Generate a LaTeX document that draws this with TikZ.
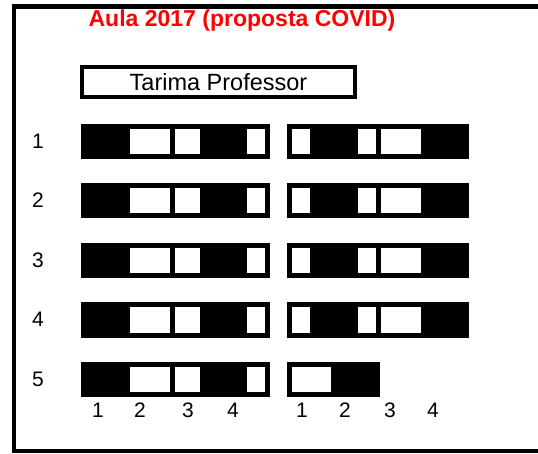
\documentclass[tikz,border=0pt]{standalone}
\usepackage{fontspec}
\setmainfont{Liberation Sans}
\begin{document}
\begin{tikzpicture}[x=1pt,y=-1pt,
  bar/.style={fill=black, draw=none, inner sep=0pt, outer sep=0pt, minimum height=35pt, anchor=north west},
  seat/.style={fill=white, draw=none, inner sep=0pt, outer sep=0pt, minimum height=25pt, anchor=north west},
  lbl/.style={font=\fontsize{21}{25}\selectfont, inner sep=0pt},
  frame/.style={line width=4.5pt, line cap=rect},
  title/.style={text=red, font=\bfseries\fontsize{23}{27}\selectfont, inner sep=0pt},
  tarima/.style={draw, line width=4pt, inner sep=0pt, minimum width=273pt, minimum height=30pt, font=\fontsize{23.5}{27}\selectfont}]
\useasboundingbox (0,0) rectangle (538,454);
% room frame (open on the right)
\coordinate (ftr) at (538,6.5);
\coordinate (ftl) at (14,6.5);
\coordinate (fbl) at (14,451);
\coordinate (fbr) at (538,451);
\draw[frame] (ftr) -- (ftl) -- (fbl) -- (fbr);
% title and teacher platform
\node[title] (title) at (242,21) {Aula 2017 (proposta COVID)};
\node[tarima] (tarima) at (218.5,82) {Tarima Professor};
% rows of desks
\foreach \r/\yy in {1/124,2/183.5,3/243,4/302.5,5/362} {
  \node[lbl] (row\r) at (38,\yy+17) {\r};
  \node[bar, minimum width=189pt] (L\r) at (81,\yy) {};
  \foreach \a/\b [count=\k] in {130/170,175/200,247/265} {
    \pgfmathsetmacro\w{\b-\a}
    \node[seat, minimum width=\w pt] (L\r s\k) at (\a,\yy+5) {};
  }
  \ifnum\r<5
    \node[bar, minimum width=182pt] (R\r) at (287,\yy) {};
    \foreach \a/\b [count=\k] in {292/310,358/376,381/421} {
      \pgfmathsetmacro\w{\b-\a}
      \node[seat, minimum width=\w pt] (R\r s\k) at (\a,\yy+5) {};
    }
  \else
    \node[bar, minimum width=93pt] (R\r) at (287,\yy) {};
    \node[seat, minimum width=39pt] (R\r s1) at (292,\yy+5) {};
  \fi
}
% column numbers
\foreach \x/\t [count=\k] in {98/1,140/2,188/3,233/4} {
  \node[lbl] (cl\k) at (\x,410) {\t};
}
\foreach \x/\t [count=\k] in {302/1,345/2,390/3,433/4} {
  \node[lbl] (cr\k) at (\x,410) {\t};
}
\end{tikzpicture}
\end{document}
